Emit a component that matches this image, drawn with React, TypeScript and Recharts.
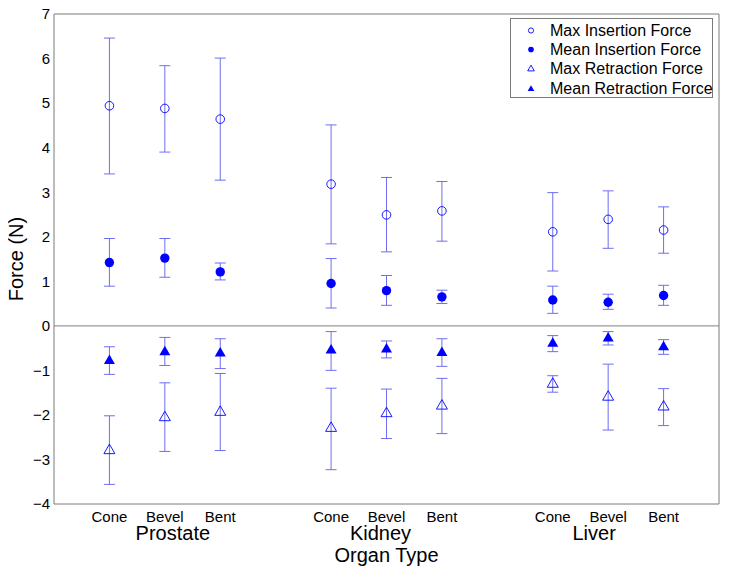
import {
  ScatterChart,
  Scatter,
  XAxis,
  YAxis,
  ErrorBar,
  ReferenceLine,
  Legend,
} from "recharts";

const organs = ["Prostate", "Kidney", "Liver"];
const needles = ["Cone", "Bevel", "Bent"];

// order: Prostate (Cone, Bevel, Bent), Kidney (...), Liver (...)
const maxInsertion = [4.94, 4.88, 4.64, 3.18, 2.49, 2.58, 2.11, 2.39, 2.15];
const maxInsertionLow = [3.41, 3.9, 3.27, 1.84, 1.66, 1.9, 1.23, 1.74, 1.63];
const maxInsertionHigh = [6.46, 5.84, 6.01, 4.51, 3.33, 3.24, 2.99, 3.03, 2.67];

const meanInsertion = [1.42, 1.52, 1.21, 0.95, 0.79, 0.65, 0.58, 0.53, 0.68];
const meanInsertionLow = [0.89, 1.09, 1.03, 0.4, 0.46, 0.5, 0.28, 0.37, 0.46];
const meanInsertionHigh = [1.96, 1.96, 1.41, 1.51, 1.13, 0.8, 0.89, 0.71, 0.91];

const maxRetraction = [-2.78, -2.04, -1.92, -2.28, -1.95, -1.78, -1.29, -1.58, -1.8];
const maxRetractionLow = [-3.56, -2.82, -2.8, -3.23, -2.53, -2.42, -1.49, -2.34, -2.24];
const maxRetractionHigh = [-2.02, -1.28, -1.07, -1.4, -1.42, -1.18, -1.12, -0.86, -1.41];

const meanRetraction = [-0.77, -0.57, -0.6, -0.53, -0.51, -0.59, -0.38, -0.26, -0.46];
const meanRetractionLow = [-1.09, -0.89, -0.96, -1.0, -0.72, -0.91, -0.58, -0.43, -0.64];
const meanRetractionHigh = [-0.47, -0.26, -0.29, -0.13, -0.34, -0.29, -0.22, -0.13, -0.31];

const seriesNames = [
  "Max Insertion Force",
  "Mean Insertion Force",
  "Max Retraction Force",
  "Mean Retraction Force",
];

const yTicks = [-4, -3, -2, -1, 0, 1, 2, 3, 4, 5, 6, 7];

const FONT = '"Liberation Sans", Arial, Helvetica, sans-serif';
const BLUE = "#0000ff";
const BAR = "#6e6ef0";
const AXIS = "#7a7a7a";

// organ groups sit 4 units apart, needles 1 unit apart
const xOf = (i: number) => Math.floor(i / 3) * 4 + (i % 3) + 1;
const xTicks = maxInsertion.map((_, i) => xOf(i));
// group labels are not exactly centred on the middle tick in the original
const organShift = [8, -6, -14];

function build(values: number[], low: number[], high: number[]) {
  return values.map((v, i) => ({
    x: xOf(i),
    y: v,
    err: [v - low[i], high[i] - v],
  }));
}

const series = [
  { name: seriesNames[0], kind: "openCircle", data: build(maxInsertion, maxInsertionLow, maxInsertionHigh) },
  { name: seriesNames[1], kind: "circle", data: build(meanInsertion, meanInsertionLow, meanInsertionHigh) },
  { name: seriesNames[2], kind: "openTriangle", data: build(maxRetraction, maxRetractionLow, maxRetractionHigh) },
  { name: seriesNames[3], kind: "triangle", data: build(meanRetraction, meanRetractionLow, meanRetractionHigh) },
];

function Marker({ kind, cx, cy, s = 1 }: { kind: string; cx: number; cy: number; s?: number }) {
  if (kind === "openCircle")
    return <circle cx={cx} cy={cy} r={4.3 * s} fill="none" stroke={BLUE} strokeWidth={0.9} />;
  if (kind === "circle") return <circle cx={cx} cy={cy} r={4.7 * s} fill={BLUE} />;
  const pts = `${cx},${cy - 5.5 * s} ${cx - 5.5 * s},${cy + 4 * s} ${cx + 5.5 * s},${cy + 4 * s}`;
  if (kind === "openTriangle")
    return <polygon points={pts} fill="none" stroke={BLUE} strokeWidth={0.9} />;
  return <polygon points={pts} fill={BLUE} />;
}

function NeedleTick({ x, y, payload }: any) {
  const k = payload.value - 1;
  const organIdx = Math.floor(k / 4);
  const needleIdx = k % 4;
  return (
    <g>
      <text x={x} y={y} dy={18} textAnchor="middle" fontSize={15} fill="#000">
        {needles[needleIdx]}
      </text>
      {needleIdx === 1 && (
        <text x={x + organShift[organIdx]} y={y} dy={36} textAnchor="middle" fontSize={20} fill="#000">
          {organs[organIdx]}
        </text>
      )}
    </g>
  );
}

function LegendBox() {
  return (
    <div
      style={{
        width: 203,
        height: 80,
        boxSizing: "border-box",
        border: `1px solid ${AXIS}`,
        background: "#fff",
        paddingTop: 2,
        fontFamily: FONT,
        fontSize: 16,
        color: "#000",
      }}
    >
      {series.map((s) => (
        <div key={s.name} style={{ display: "flex", alignItems: "center", height: 19.2 }}>
          <svg width={39} height={19} style={{ flex: "none" }}>
            <Marker kind={s.kind} cx={20} cy={9.5} s={0.6} />
          </svg>
          <span style={{ whiteSpace: "nowrap", lineHeight: "19px" }}>{s.name}</span>
        </div>
      ))}
    </div>
  );
}

const fmt = (v: number) => String(v).replace("-", "\u2212");

export default function App() {
  return (
    <div style={{ fontFamily: FONT }}>
      <ScatterChart
        width={713}
        height={562}
        margin={{ top: 6, right: 2, bottom: 0, left: 0 }}
        style={{ fontFamily: FONT }}
      >
        <XAxis
          xAxisId="b"
          type="number"
          dataKey="x"
          domain={[0, 12]}
          ticks={xTicks}
          height={66}
          tickSize={0}
          tickMargin={0}
          tickLine={false}
          axisLine={{ stroke: AXIS }}
          tick={<NeedleTick />}
          interval={0}
          label={{ value: "Organ Type", position: "insideBottom", offset: 8, fontSize: 20, fill: "#000" }}
        />
        <XAxis
          xAxisId="bm"
          type="number"
          domain={[0, 12]}
          ticks={xTicks}
          orientation="bottom"
          mirror
          tick={false}
          tickSize={6}
          axisLine={false}
          tickLine={{ stroke: AXIS }}
        />
        <XAxis
          xAxisId="t"
          type="number"
          domain={[0, 12]}
          ticks={xTicks}
          orientation="top"
          mirror
          tick={false}
          tickSize={6}
          axisLine={{ stroke: AXIS }}
          tickLine={{ stroke: AXIS }}
        />
        <YAxis
          yAxisId="l"
          type="number"
          dataKey="y"
          domain={[-4, 7]}
          ticks={yTicks}
          width={46}
          tickSize={0}
          tickMargin={4}
          tickLine={false}
          axisLine={{ stroke: AXIS }}
          tick={{ fontSize: 15, fill: "#000" }}
          tickFormatter={fmt}
          interval={0}
          label={{
            value: "Force (N)",
            angle: -90,
            position: "insideLeft",
            offset: 8,
            fontSize: 20,
            fill: "#000",
            style: { textAnchor: "middle" },
          }}
        />
        <YAxis
          yAxisId="lm"
          type="number"
          domain={[-4, 7]}
          ticks={yTicks}
          orientation="left"
          mirror
          tick={false}
          tickSize={6}
          axisLine={false}
          tickLine={{ stroke: AXIS }}
        />
        <YAxis
          yAxisId="r"
          type="number"
          domain={[-4, 7]}
          ticks={yTicks}
          orientation="right"
          mirror
          tick={false}
          tickSize={6}
          axisLine={{ stroke: AXIS }}
          tickLine={{ stroke: AXIS }}
        />
        <ReferenceLine xAxisId="b" yAxisId="l" y={0} stroke="#9a9a9a" strokeWidth={1.2} />
        {series.map((s) => (
          <Scatter
            key={s.name}
            name={s.name}
            data={s.data}
            xAxisId="b"
            yAxisId="l"
            fill={BLUE}
            isAnimationActive={false}
            shape={(p: any) => <Marker kind={s.kind} cx={p.cx} cy={p.cy} />}
          >
            <ErrorBar
              dataKey="err"
              direction="y"
              width={5.5}
              stroke={BAR}
              strokeWidth={1}
              isAnimationActive={false}
            />
          </Scatter>
        ))}
        <Legend
          layout="vertical"
          align="center"
          verticalAlign="middle"
          wrapperStyle={{ top: 10, left: 502, width: 203, height: 80 }}
          content={() => <LegendBox />}
        />
      </ScatterChart>
    </div>
  );
}
